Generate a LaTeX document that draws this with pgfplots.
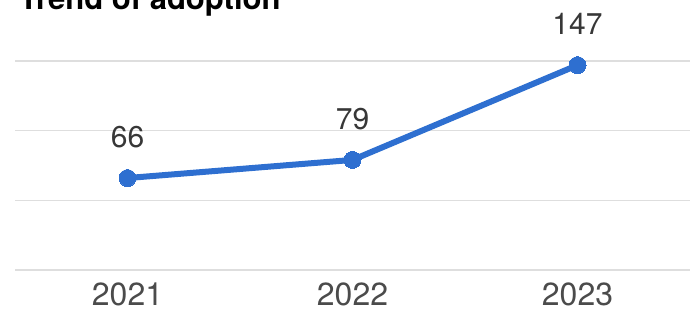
\documentclass[border=0pt]{standalone}
\usepackage{pgfplots}
\pgfplotsset{compat=1.18}
\usepackage{fontspec}
\setmainfont{TeX Gyre Heros}
\definecolor{lineblue}{RGB}{46,111,208}
\definecolor{gridgray}{RGB}{222,222,222}
\definecolor{ticktext}{RGB}{75,75,75}
\definecolor{labeltext}{RGB}{55,55,55}
\begin{document}
\begin{tikzpicture}[x=1pt,y=1pt]
\path[use as bounding box, clip] (0,0) rectangle (693,329);
\node[anchor=base west, inner sep=0pt, font=\fontsize{31pt}{36pt}\selectfont\bfseries] at (19,319) {Trend of adoption};
\begin{axis}[
  at={(15pt,59pt)}, anchor=south west,
  scale only axis, width=675pt, height=209pt,
  xmin=-0.5, xmax=2.5, ymin=0, ymax=150,
  xtick={0,1,2}, xticklabels={2021,2022,2023},
  ytick={0,50,100,150}, yticklabels={},
  ymajorgrids, grid style={gridgray, line width=1.6pt},
  axis line style={draw=none}, tick style={draw=none},
  /pgf/number format/assume math mode=true,
  x tick label style={font=\fontsize{32pt}{36pt}\selectfont, text=ticktext, anchor=center, yshift=-24pt},
  clip=false,
  nodes near coords,
  every node near coord/.append style={font=\fontsize{30pt}{36pt}\selectfont, text=labeltext, anchor=center, yshift=41pt},
]
\addplot[color=lineblue, line width=6pt, mark=*, mark size=8.5pt, mark options={fill=lineblue, draw=lineblue, line width=0pt}] coordinates {(0,66) (1,79) (2,147)};
\end{axis}
\end{tikzpicture}
\end{document}
